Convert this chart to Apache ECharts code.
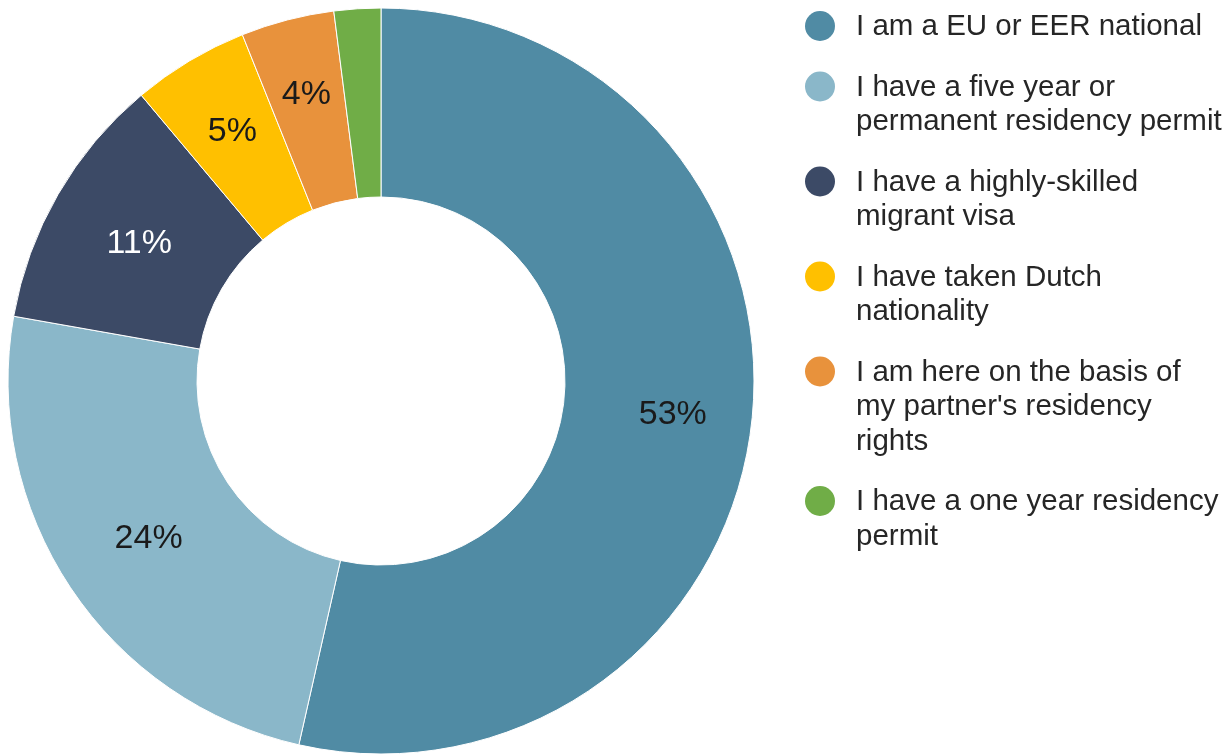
<!DOCTYPE html>
<html>
<head>
<meta charset="utf-8">
<title>Residency status</title>
<script src="https://cdn.jsdelivr.net/npm/echarts@6/dist/echarts.min.js"></script>
<style>
  html, body { margin: 0; padding: 0; background: #ffffff; }
  #chart { width: 1224px; height: 754px; }
</style>
</head>
<body>
<div id="chart"></div>
<script>
// Residency status of respondents (percent)
const categories = [
  'I am a EU or EER national',
  'I have a five year or\npermanent residency permit',
  'I have a highly-skilled\nmigrant visa',
  'I have taken Dutch\nnationality',
  'I am here on the basis of\nmy partner\'s residency\nrights',
  'I have a one year residency\npermit'
];
const values = [53, 24, 11, 5, 4, 2];
const shownLabels = [true, true, true, true, true, false];

// Styling
const colors = ['#508BA4', '#8AB7C9', '#3C4A66', '#FFC000', '#E8923C', '#70AD47'];
const labelColors = ['#1a1a1a', '#1a1a1a', '#ffffff', '#1a1a1a', '#1a1a1a', '#1a1a1a'];
// small nudges so narrow slices keep their labels clear of the hole
const labelNudge = [[12, 2], [2, 2], [2, 3], [-4, -8], [-4, -14], [0, 0]];

const FONT = '"Liberation Sans", Arial, sans-serif';

// Legend layout: one dot per entry, level with the entry's first text line
const LEGEND = { dotX: 820, dotR: 15, textX: 856, firstY: 27, lineH: 34.5, gap: 26, fontSize: 29.5 };

const chart = echarts.init(document.getElementById('chart'), null, { renderer: 'canvas' });

const pieData = categories.map((name, i) => ({
  name: name,
  value: values[i],
  itemStyle: { color: colors[i] },
  label: {
    show: shownLabels[i],
    color: labelColors[i],
    offset: labelNudge[i]
  }
}));

function buildLegend() {
  const items = [];
  let cy = LEGEND.firstY;
  categories.forEach((name, i) => {
    const lines = name.split('\n').length;
    items.push({
      type: 'circle',
      silent: true,
      shape: { cx: LEGEND.dotX, cy: cy - 1, r: LEGEND.dotR },
      style: { fill: colors[i] }
    });
    items.push({
      type: 'text',
      silent: true,
      x: LEGEND.textX,
      y: cy - LEGEND.lineH / 2,
      style: {
        text: name,
        fill: '#262626',
        fontFamily: FONT,
        fontSize: LEGEND.fontSize,
        lineHeight: LEGEND.lineH,
        verticalAlign: 'top',
        align: 'left'
      }
    });
    cy += lines * LEGEND.lineH + LEGEND.gap;
  });
  return items;
}

chart.setOption({
  animation: false,
  backgroundColor: '#ffffff',
  graphic: buildLegend(),
  series: [{
    type: 'pie',
    center: [381, 381],
    radius: [184, 373],
    startAngle: 90,
    clockwise: true,
    avoidLabelOverlap: false,
    itemStyle: { borderColor: '#ffffff', borderWidth: 1 },
    label: {
      position: 'inside',
      formatter: p => p.value + '%',
      fontFamily: FONT,
      fontSize: 34
    },
    labelLine: { show: false },
    emphasis: { disabled: true },
    data: pieData
  }]
});
</script>
</body>
</html>
